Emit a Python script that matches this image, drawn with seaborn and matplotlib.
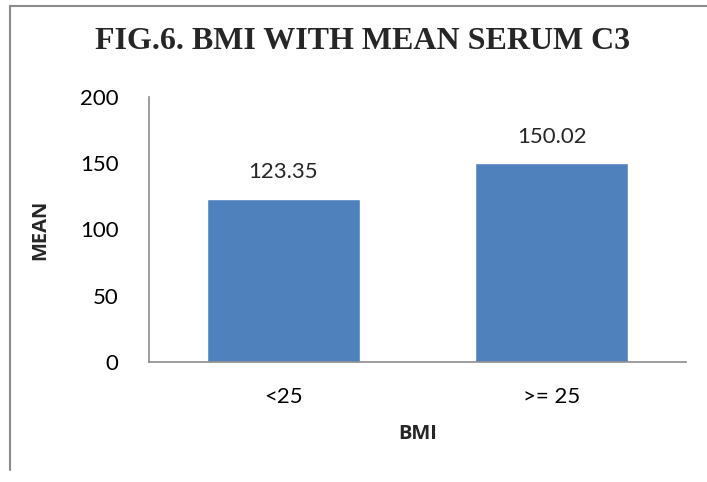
import matplotlib
matplotlib.use("Agg")
import matplotlib.pyplot as plt
import seaborn as sns
import pandas as pd

categories = ["<25", ">= 25"]
means = [123.35, 150.02]
y_ticks = [0, 50, 100, 150, 200]

sns.set_theme(style="white")
plt.rcParams["font.family"] = ["Lato", "DejaVu Sans"]

df = pd.DataFrame({"BMI": categories, "MEAN": means})

fig = plt.figure(figsize=(7.07, 4.82), dpi=100)
ax = fig.add_axes([0.2107, 0.249, 0.7596, 0.5498])

sns.barplot(data=df, x="BMI", y="MEAN", color="#4F81BD", saturation=1,
            width=0.57, ax=ax)

ax.set_ylim(0, 200)
ax.set_yticks(y_ticks)
ax.set_xlim(-0.5, 1.5)
ax.tick_params(axis="both", length=0, labelsize=16, colors="black")
ax.tick_params(axis="x", pad=18)
ax.tick_params(axis="y", pad=22)

for side in ["top", "right"]:
    ax.spines[side].set_visible(False)
for side in ["left", "bottom"]:
    ax.spines[side].set_color("#8C8C8C")
    ax.spines[side].set_linewidth(1.2)

for i, v in enumerate(means):
    ax.text(i, v + 20, f"{v:.2f}", ha="center", va="center", fontsize=16)

label_font = dict(fontsize=14.5, fontweight="bold", family="Open Sans")
ax.set_xlabel("BMI", labelpad=12, **label_font)
ax.set_ylabel("MEAN", labelpad=21, **label_font)

fig.text(0.513, 0.913, "FIG.6. BMI WITH MEAN SERUM C3", ha="center", va="center",
         fontsize=23, fontweight="bold", family="Liberation Serif")

# outer chart frame (left and top edges)
fig.add_artist(plt.Line2D([0.0135, 0.0135], [0.025, 0.987], color="#8C8C8C",
                          linewidth=1.5, transform=fig.transFigure))
fig.add_artist(plt.Line2D([0.0135, 1.0], [0.987, 0.987], color="#8C8C8C",
                          linewidth=1.5, transform=fig.transFigure))

fig.savefig("out.png", dpi=100)
